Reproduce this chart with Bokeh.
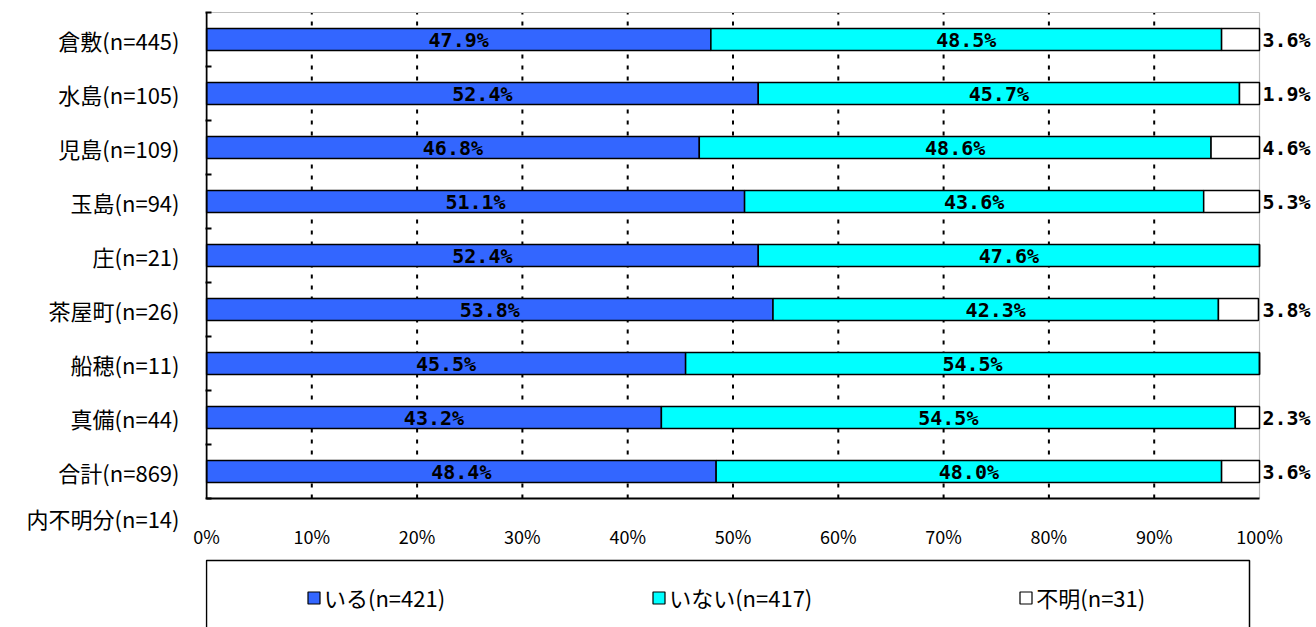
from bokeh.plotting import figure
from bokeh.models import (ColumnDataSource, FixedTicker, LabelSet, Legend,
                          LegendItem, BoxAnnotation, Range1d)
from bokeh.layouts import column
from bokeh.core.properties import value
from bokeh.embed import file_html
from bokeh.resources import INLINE
import numpy as np

categories = ["倉敷(n=445)", "水島(n=105)", "児島(n=109)", "玉島(n=94)", "庄(n=21)",
              "茶屋町(n=26)", "船穂(n=11)", "真備(n=44)", "合計(n=869)"]
iru = [47.9, 52.4, 46.8, 51.1, 52.4, 53.8, 45.5, 43.2, 48.4]
inai = [48.5, 45.7, 48.6, 43.6, 47.6, 42.3, 54.5, 54.5, 48.0]
fumei = [3.6, 1.9, 4.6, 5.3, 0.0, 3.8, 0.0, 2.3, 3.6]
series_labels = ["いる(n=421)", "いない(n=417)", "不明(n=31)"]
series_colors = ["#3366FF", "#00FFFF", "#FFFFFF"]
note_text = "内不明分(n=14)"
x_ticks = [0, 10, 20, 30, 40, 50, 60, 70, 80, 90, 100]
x_tick_labels = ["0%", "10%", "20%", "30%", "40%", "50%", "60%", "70%", "80%", "90%", "100%"]

# ---- layout constants (pixels) ----
W = 1316
LEFT = 205            # frame left edge
PX_X = 10.53          # pixels per percent
PX_Y = 54.0           # pixels per category
TOP_PAGE = 12         # top of category area
FRAME_BOTTOM = 521    # frame bottom (page px)
H1 = 557
H2 = 627 - H1

n = len(categories)
ypos = [n - 1 - i for i in range(n)]
y_lo, y_hi = -0.5, n - 0.5
note_y = y_lo - (517 - (TOP_PAGE + n * PX_Y)) / PX_Y

x_start = -1.0 / PX_X
x_end = x_start + (W - LEFT) / PX_X
y_top = y_hi + 1.0 / PX_Y
y_bottom = y_hi - (FRAME_BOTTOM - TOP_PAGE) / PX_Y

a = np.array(iru); b = np.array(inai); c = np.array(fumei)
src = ColumnDataSource(dict(
    y=ypos,
    l0=np.zeros(n), r0=a,
    l1=a, r1=a + b,
    l2=a + b, r2=a + b + c,
    m0=a / 2, m1=a + b / 2,
    t0=[f"{v:.1f}%" for v in iru],
    t1=[f"{v:.1f}%" for v in inai],
))
keep = [i for i in range(n) if fumei[i] > 0]
fsrc = ColumnDataSource(dict(
    y=[ypos[i] for i in keep],
    x=[x_ticks[-1]] * len(keep),
    t=[f"{fumei[i]:.1f}%" for i in keep],
))

p = figure(width=W, height=H1, output_backend="svg", toolbar_location=None,
           x_range=Range1d(x_start, x_end), y_range=Range1d(y_bottom, y_top),
           min_border_left=LEFT, min_border_right=0, min_border_top=TOP_PAGE - 1,
           min_border_bottom=H1 - FRAME_BOTTOM)
p.outline_line_color = None
p.xgrid.visible = False
p.ygrid.visible = False

# dotted vertical gridlines
gx = x_ticks[1:-1]
p.segment(x0=gx, x1=gx, y0=[y_lo] * len(gx), y1=[y_hi] * len(gx),
          line_color="black", line_width=2, line_dash="4 7")
# plot-area border: grey top/right, black left/bottom
p.segment(x0=[x_ticks[0], x_ticks[-1]], x1=[x_ticks[-1], x_ticks[-1]],
          y0=[y_hi, y_lo], y1=[y_hi, y_hi], line_color="#BFBFBF", line_width=1.2)

bh = 0.41
r0 = p.hbar(y="y", left="l0", right="r0", height=bh, source=src,
            fill_color=series_colors[0], line_color="black", line_width=1.5)
r1 = p.hbar(y="y", left="l1", right="r1", height=bh, source=src,
            fill_color=series_colors[1], line_color="black", line_width=1.5)
r2 = p.hbar(y="y", left="l2", right="r2", height=bh, source=src,
            fill_color=series_colors[2], line_color="black", line_width=1.5)

p.segment(x0=[x_ticks[0], x_ticks[0]], x1=[x_ticks[0], x_ticks[-1]],
          y0=[y_lo, y_lo], y1=[y_hi, y_lo], line_color="black", line_width=2)

lab_font = value("DejaVu Sans Mono")
for xcol, tcol in (("m0", "t0"), ("m1", "t1")):
    p.add_layout(LabelSet(x=xcol, y="y", text=tcol, source=src, text_align="center",
                          text_baseline="middle", text_font=lab_font,
                          text_font_size=value("20px"), text_font_style="bold",
                          text_color="black"))
p.add_layout(LabelSet(x="x", y="y", text="t", source=fsrc, text_align="left",
                      text_baseline="middle", x_offset=3, text_font=lab_font,
                      text_font_size=value("20px"), text_font_style="bold",
                      text_color="black"))

# x axis
p.xaxis.ticker = FixedTicker(ticks=x_ticks)
p.xaxis.major_label_overrides = {t: s for t, s in zip(x_ticks, x_tick_labels)}
p.xaxis.axis_line_color = None
p.xaxis.major_tick_line_color = None
p.xaxis.minor_tick_line_color = None
p.xaxis.major_tick_in = 0
p.xaxis.major_tick_out = 0
p.xaxis.major_label_standoff = 1
p.xaxis.major_label_text_font = "Noto Sans CJK JP"
p.xaxis.major_label_text_font_size = "18px"
p.xaxis.major_label_text_color = "black"

# y axis (categories + note row)
p.yaxis.ticker = FixedTicker(ticks=ypos + [note_y],
                             minor_ticks=[i - 0.5 for i in range(n + 1)])
overrides = {y: c for y, c in zip(ypos, categories)}
overrides[note_y] = note_text
p.yaxis.major_label_overrides = overrides
p.yaxis.axis_line_color = None
p.yaxis.major_tick_line_color = None
p.yaxis.minor_tick_in = 6
p.yaxis.minor_tick_out = 0
p.yaxis.minor_tick_line_color = "black"
p.yaxis.minor_tick_line_width = 2
p.yaxis.major_label_standoff = 20
p.yaxis.major_label_text_font = "Noto Sans CJK JP"
p.yaxis.major_label_text_font_size = "22px"
p.yaxis.major_label_text_color = "black"

# ---- legend panel ----
p2 = figure(width=W, height=H2, output_backend="svg", toolbar_location=None,
            x_range=Range1d(x_start, x_end), y_range=Range1d(0, H2),
            x_axis_location=None, y_axis_location=None,
            min_border_left=LEFT, min_border_right=0, min_border_top=0, min_border_bottom=0)
p2.outline_line_color = None
p2.xgrid.visible = False
p2.ygrid.visible = False
p2.add_layout(BoxAnnotation(left=x_ticks[0], right=(1250 - LEFT - 1) / PX_X + x_start,
                            top=H2 - 3, bottom=-10,
                            fill_alpha=0, line_color="black", line_alpha=1,
                            line_width=1.5))
# legend swatches: renderers kept out of view (below the visible range)
dummies = [p2.hbar(y=[-1000], left=[0], right=[1], height=1, fill_color=col,
                   line_color="black", line_width=1.2) for col in series_colors]
legend = Legend(items=[LegendItem(label=lab, renderers=[rr])
                       for lab, rr in zip(series_labels, dummies)],
                orientation="horizontal", location=(306 - LEFT, 14),
                glyph_width=15, glyph_height=15, label_standoff=3, label_width=0,
                label_height=32, spacing=206, padding=0, margin=0,
                border_line_alpha=0, background_fill_alpha=0,
                label_text_font="Noto Sans CJK JP", label_text_font_size="22px",
                label_text_color="black", label_text_baseline="middle")
p2.add_layout(legend, "center")

layout = column(p, p2, spacing=0)
open("out.html", "w").write(file_html(layout, INLINE))
